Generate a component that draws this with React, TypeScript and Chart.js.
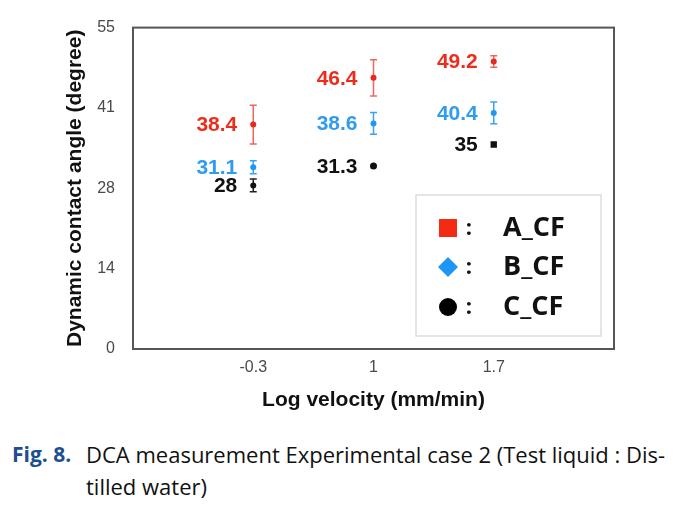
import React, { useEffect, useRef } from 'react';
import { Chart, registerables } from 'chart.js';

Chart.register(...registerables);

const CATEGORIES = ['-0.3', '1', '1.7'];
const SERIES_NAMES = ['A_CF', 'B_CF', 'C_CF'];
const A_VALUES = [38.4, 46.4, 49.2];
const B_VALUES = [31.1, 38.6, 40.4];
const C_VALUES = [28, 31.3, 35];
const A_ERRORS = [3.3, 3.1, 1.0];
const B_ERRORS = [1.1, 1.85, 1.85];
const C_ERRORS = [1.1, 0, 0];
const Y_TICKS = [0, 13.75, 27.5, 41.25, 55];
const Y_TICK_LABELS = ['0', '14', '28', '41', '55'];

const MARK_COLORS = ['#e8281e', '#2196f3', '#111111'];
const ERR_COLORS = ['#f0665c', '#3aa2f2', '#222222'];
const LABEL_COLORS = ['#ee2c1c', '#2f9cf0', '#111111'];
const LEGEND_COLORS = ['#f42a12', '#1e96f5', '#000000'];

const framePlugin = {
  id: 'frame',
  beforeDatasetsDraw(chart: any) {
    const { ctx, chartArea: a } = chart;
    ctx.save();
    ctx.strokeStyle = '#555555';
    ctx.lineWidth = 2;
    ctx.strokeRect(a.left, a.top, a.right - a.left, a.bottom - a.top);
    ctx.restore();
  },
};

const errorBarPlugin = {
  id: 'errorBars',
  beforeDatasetsDraw(chart: any) {
    const { ctx } = chart;
    const yScale = chart.scales.y;
    ctx.save();
    chart.data.datasets.forEach((ds: any, di: number) => {
      const meta = chart.getDatasetMeta(di);
      const errs = ds.errors as number[];
      meta.data.forEach((pt: any, i: number) => {
        const e = errs[i];
        if (!e) return;
        const v = ds.data[i].y;
        const yTop = yScale.getPixelForValue(v + e);
        const yBot = yScale.getPixelForValue(v - e);
        const x = pt.x;
        ctx.strokeStyle = ERR_COLORS[di];
        ctx.lineWidth = 1.5;
        ctx.beginPath();
        ctx.moveTo(x, yTop);
        ctx.lineTo(x, yBot);
        ctx.moveTo(x - 3.5, yTop);
        ctx.lineTo(x + 3.5, yTop);
        ctx.moveTo(x - 3.5, yBot);
        ctx.lineTo(x + 3.5, yBot);
        ctx.stroke();
      });
    });
    ctx.restore();
  },
};

const valueLabelPlugin = {
  id: 'valueLabels',
  afterDatasetsDraw(chart: any) {
    const { ctx } = chart;
    ctx.save();
    ctx.font = 'bold 21px "Liberation Sans", Arial, sans-serif';
    ctx.textAlign = 'right';
    ctx.textBaseline = 'middle';
    chart.data.datasets.forEach((ds: any, di: number) => {
      const meta = chart.getDatasetMeta(di);
      meta.data.forEach((pt: any, i: number) => {
        ctx.fillStyle = LABEL_COLORS[di];
        ctx.fillText(String(ds.data[i].y), pt.x - 16, pt.y + 1);
      });
    });
    ctx.restore();
  },
};

const legendPlugin = {
  id: 'boxLegend',
  afterDatasetsDraw(chart: any) {
    const { ctx, chartArea: a } = chart;
    const w = 185;
    const h = 141;
    const left = a.right - 13 - w;
    const top = a.bottom - 13 - h;
    ctx.save();
    ctx.fillStyle = '#ffffff';
    ctx.fillRect(left, top, w, h);
    ctx.strokeStyle = '#dddddd';
    ctx.lineWidth = 1.5;
    ctx.strokeRect(left, top, w, h);
    const rows = [33, 72, 112];
    SERIES_NAMES.forEach((name, i) => {
      const cy = top + rows[i];
      const mx = left + 32;
      ctx.fillStyle = LEGEND_COLORS[i];
      ctx.beginPath();
      if (i === 0) {
        ctx.rect(mx - 9, cy - 9, 18, 18);
      } else if (i === 1) {
        ctx.moveTo(mx, cy - 10);
        ctx.lineTo(mx + 10, cy);
        ctx.lineTo(mx, cy + 10);
        ctx.lineTo(mx - 10, cy);
        ctx.closePath();
      } else {
        ctx.arc(mx, cy, 9, 0, Math.PI * 2);
      }
      ctx.fill();
      ctx.fillStyle = '#111111';
      ctx.font = 'bold 22px "Open Sans", sans-serif';
      ctx.textAlign = 'center';
      ctx.textBaseline = 'middle';
      ctx.fillText(':', left + 53, cy + 1);
      ctx.font = 'bold 27px "Open Sans", sans-serif';
      ctx.textAlign = 'left';
      ctx.fillText(name, left + 87, cy);
    });
    ctx.restore();
  },
};

function ChartCanvas() {
  const ref = useRef<HTMLCanvasElement | null>(null);
  useEffect(() => {
    if (!ref.current) return;
    const series = [A_VALUES, B_VALUES, C_VALUES];
    const errors = [A_ERRORS, B_ERRORS, C_ERRORS];
    const chart = new Chart(ref.current, {
      type: 'scatter',
      data: {
        datasets: series.map((vals, di) => ({
          label: SERIES_NAMES[di],
          data: vals.map((v, i) => ({ x: i + 1, y: v })),
          errors: errors[di],
          backgroundColor: MARK_COLORS[di],
          borderColor: MARK_COLORS[di],
          pointStyle: di === 2 ? ['circle', 'circle', 'rect'] : 'circle',
          pointRadius: di === 2 ? [3, 3.5, 4.5] : 3,
          pointBorderWidth: 0,
          showLine: false,
        })) as any,
      },
      options: {
        animation: false,
        responsive: false,
        maintainAspectRatio: false,
        layout: { padding: { left: 63, right: 69, top: 16, bottom: 0 } },
        plugins: {
          legend: { display: false },
          tooltip: { enabled: false },
        },
        scales: {
          x: {
            type: 'linear',
            min: 0,
            max: 4,
            grid: { display: false, drawTicks: false },
            border: { display: false },
            afterBuildTicks: (s: any) => {
              s.ticks = CATEGORIES.map((_, i) => ({ value: i + 1 }));
            },
            afterFit: (s: any) => {
              s.height = 71;
            },
            ticks: {
              padding: 9,
              color: '#4a4a4a',
              font: { family: '"Liberation Sans", Arial, sans-serif', size: 16 },
              callback: (v: any) => CATEGORIES[Number(v) - 1] ?? '',
            },
            title: {
              display: true,
              text: 'Log velocity (mm/min)',
              color: '#111111',
              font: { family: '"Liberation Sans", Arial, sans-serif', size: 21, weight: 'bold' },
              padding: { top: 0, bottom: 7 },
            },
          },
          y: {
            type: 'linear',
            min: 0,
            max: 55,
            grid: { display: false, drawTicks: false },
            border: { display: false },
            afterBuildTicks: (s: any) => {
              s.ticks = Y_TICKS.map((v) => ({ value: v }));
            },
            afterFit: (s: any) => {
              s.width = 70;
            },
            ticks: {
              padding: 18,
              color: '#4a4a4a',
              font: { family: '"Liberation Sans", Arial, sans-serif', size: 16 },
              callback: (v: any) => {
                const idx = Y_TICKS.indexOf(Number(v));
                return idx >= 0 ? Y_TICK_LABELS[idx] : '';
              },
            },
            title: {
              display: true,
              text: 'Dynamic contact angle (degree)',
              color: '#111111',
              font: { family: '"Liberation Sans", Arial, sans-serif', size: 21, weight: 'bold' },
              padding: { top: 0, bottom: 0 },
            },
          },
        },
      } as any,
      plugins: [framePlugin, errorBarPlugin, valueLabelPlugin, legendPlugin],
    });
    return () => chart.destroy();
  }, []);
  return <canvas ref={ref} width={683} height={420} style={{ display: 'block', width: 683, height: 420 }} />;
}

export default function App() {
  return (
    <div style={{ position: 'absolute', left: 0, top: 0, width: 683, height: 507, background: '#ffffff', overflow: 'hidden' }}>
      <ChartCanvas />
      <div
        style={{
          position: 'absolute',
          left: 12,
          top: 438,
          fontFamily: '"Open Sans", sans-serif',
          fontSize: 21,
          lineHeight: '32px',
          fontWeight: 700,
          color: '#1d4f8e',
          whiteSpace: 'nowrap',
        }}
      >
        Fig. 8.
      </div>
      <div
        style={{
          position: 'absolute',
          left: 86,
          top: 438,
          fontFamily: '"Open Sans", sans-serif',
          fontSize: 22,
          lineHeight: '32px',
          color: '#111111',
          whiteSpace: 'nowrap',
        }}
      >
        DCA measurement Experimental case 2 (Test liquid : Dis-
        <br />
        tilled water)
      </div>
    </div>
  );
}
